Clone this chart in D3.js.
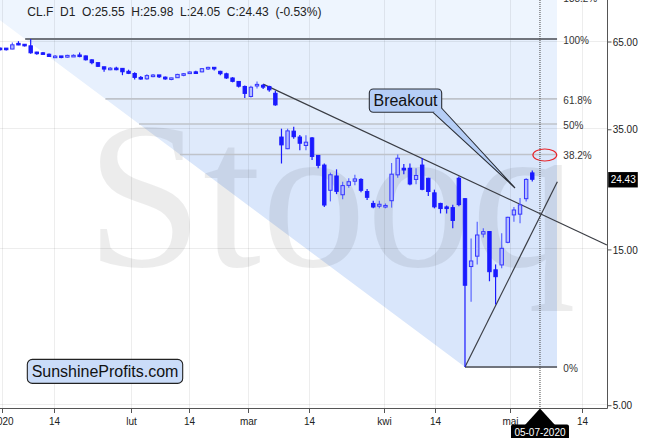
<!DOCTYPE html>
<html><head><meta charset="utf-8">
<script src="https://cdn.jsdelivr.net/npm/d3@7"></script>
<style>
html,body{margin:0;padding:0;background:#fff;}
svg{display:block;font-family:"Liberation Sans",Arial,Helvetica,sans-serif;}
</style></head><body>
<svg id="chart" width="667" height="438"></svg>
<script>
// ---- data (one slot per trading session) ----
const dates = ["2019-12-31","2020-01-02","2020-01-03","2020-01-06","2020-01-07","2020-01-08","2020-01-09","2020-01-10","2020-01-13","2020-01-14","2020-01-15","2020-01-16","2020-01-17","2020-01-21","2020-01-22","2020-01-23","2020-01-24","2020-01-27","2020-01-28","2020-01-29","2020-01-30","2020-01-31","2020-02-03","2020-02-04","2020-02-05","2020-02-06","2020-02-07","2020-02-10","2020-02-11","2020-02-12","2020-02-13","2020-02-14","2020-02-18","2020-02-19","2020-02-20","2020-02-21","2020-02-24","2020-02-25","2020-02-26","2020-02-27","2020-02-28","2020-03-02","2020-03-03","2020-03-04","2020-03-05","2020-03-06","2020-03-09","2020-03-10","2020-03-11","2020-03-12","2020-03-13","2020-03-16","2020-03-17","2020-03-18","2020-03-19","2020-03-20","2020-03-23","2020-03-24","2020-03-25","2020-03-26","2020-03-27","2020-03-30","2020-03-31","2020-04-01","2020-04-02","2020-04-03","2020-04-06","2020-04-07","2020-04-08","2020-04-09","2020-04-13","2020-04-14","2020-04-15","2020-04-16","2020-04-17","2020-04-20","2020-04-21","2020-04-22","2020-04-23","2020-04-24","2020-04-27","2020-04-28","2020-04-29","2020-04-30","2020-05-01","2020-05-04","2020-05-05","2020-05-06"];
const openV = [61.6,61.6,61.2,63.7,63.3,62.6,59.9,59.6,59.0,58.1,58.3,57.8,58.4,58.7,58.3,56.7,55.6,54.0,53.1,53.5,53.4,52.3,51.5,50.1,49.6,50.8,51.0,50.2,49.6,50.0,51.2,51.5,52.1,52.1,53.3,53.8,52.3,51.4,49.9,48.7,47.0,43.8,47.2,47.4,47.0,44.8,32.9,30.3,34.3,32.9,31.0,32.7,28.9,27.0,22.6,25.0,21.9,23.4,24.1,24.4,22.4,20.6,20.2,20.1,21.0,25.2,26.4,26.4,24.4,27.0,24.6,22.2,20.6,20.1,20.0,24.6,21.3,13.2,14.2,16.6,16.9,12.9,13.35,15.66,19.0,19.1,21.3,25.55];
const highV = [61.9,61.6,64.1,64.7,63.4,65.65,60.0,59.9,59.3,58.7,58.3,58.8,59.0,59.7,58.5,56.9,55.7,54.0,53.9,54.0,53.5,52.9,52.0,50.6,51.2,51.3,51.0,50.4,50.0,51.4,51.7,52.3,52.5,53.5,54.0,53.9,52.5,51.8,50.2,48.8,47.3,47.2,48.7,47.8,47.2,45.6,34.9,34.9,35.4,33.4,33.3,32.9,29.0,27.3,25.6,26.2,24.0,24.6,25.2,24.6,22.8,21.0,21.0,20.6,27.4,29.1,27.2,27.3,26.4,28.4,24.7,22.7,20.7,20.3,20.4,24.9,21.4,16.1,18.1,17.3,16.9,13.4,16.7,18.75,20.1,21.4,24.6,25.98];
const lowV = [60.6,60.6,61.1,62.9,62.3,59.15,58.8,58.8,58.0,57.7,57.4,57.6,58.2,57.8,56.4,55.0,53.9,52.1,52.7,52.7,50.9,51.3,49.4,49.3,49.3,50.2,49.9,49.3,49.1,49.9,50.5,51.3,51.3,52.0,52.8,52.6,50.9,49.6,48.4,46.7,43.3,43.5,46.3,46.2,45.3,41.0,27.3,30.2,32.5,30.0,30.0,28.0,26.4,20.1,20.9,22.0,21.2,23.0,23.4,22.3,21.1,19.9,19.9,19.9,20.0,24.7,25.3,23.4,23.6,22.6,21.7,19.9,19.2,19.2,17.3,20.2,6.5,10.3,13.4,16.2,11.9,10.1,13.05,15.55,18.1,17.9,20.9,24.05];
const closeV = [61.06,61.18,63.05,63.27,62.70,59.61,59.56,59.04,58.08,58.23,57.81,58.52,58.54,58.38,56.74,55.59,54.19,53.14,53.48,53.33,52.14,51.56,50.11,49.61,50.75,50.95,50.32,49.57,49.94,51.17,51.42,52.05,52.05,53.29,53.78,53.38,51.43,49.90,48.73,47.09,44.76,46.75,47.7,46.78,45.90,41.28,31.13,34.36,32.98,31.50,31.73,28.70,26.95,20.37,25.22,22.43,23.36,24.01,24.49,22.60,21.51,20.09,20.48,20.31,25.32,28.34,26.08,23.63,25.09,22.76,22.41,20.11,19.87,19.87,18.27,20.43,11.57,13.73,16.49,16.88,12.73,12.29,15.01,18.68,19.67,20.4,24.4,24.43];

const xTickSlots  = [0.33, 8.81, 21.4, 30.93, 40.58, 50.52, 62.68, 71.1, 83.39, 95.2];
const xTickLabels = ["2020","14","lut","14","mar","14","kwi","14","maj","14"];
const yTickValues = [5, 15, 35, 65];

const fibLevels = [0, 0.382, 0.5, 0.618, 1, 1.382];
const fibLabels = ["0%","38.2%","50%","61.8%","100%","138.2%"];
const fibHigh = {slot: 4.1, price: 65.65};
const fibLow  = {slot: 76,  price: 6.5};
const fibEndSlot = 91.05;

const resistanceLine = [{slot: 43, price: 47.8}, {slot: 99.2, price: 15.37}];
const supportLine    = [{slot: 76, price: 6.5},  {slot: 91.1, price: 24.0}];

const headerText = "CL.F  D1  O:25.55  H:25.98  L:24.05  C:24.43  (-0.53%)";
const lastPrice = 24.43;
const cursorSlot = 88.26, cursorLabel = "05-07-2020";

const breakoutBox  = {s0: 60.36, s1: 72.19, p0: 46.17, p1: 39.18, text: "Breakout"};
const breakoutWedge = [{slot: 70.77, price: 39.18}, {slot: 84.18, price: 22.97}, {slot: 72.16, price: 40.38}];
const brandBox = {s0: 4.45, s1: 29.85, p0: 6.86, p1: 5.79, text: "SunshineProfits.com"};
const circleMark = {s0: 87.1, s1: 91.0, p0: 30.24, p1: 27.79};

// ---- layout ----
const W = 667, H = 438;
const plotRight = 607.5, plotBottom = 408.5;
const svg = d3.select("#chart");

const x = d3.scaleLinear().domain([0, 99.2]).range([0.1, 606.9]);
const y = d3.scaleLog().domain([5, 65]).range([404.2, 40.5]);

svg.append("rect").attr("width", W).attr("height", H).attr("fill", "#fff");

// ---- fibonacci shaded region ----
const xh = x(fibHigh.slot), yh = y(fibHigh.price);
const xl = x(fibLow.slot),  yl = y(fibLow.price);
const m = (yl - yh) / (xl - xh);
const y0 = yh - m * xh;
const xr = x(fibEndSlot);
const diagX = yy => xh + (yy - yh) / m;

svg.append("clipPath").attr("id", "fibclip")
  .append("path")
  .attr("d", d3.line()([[0, -5], [xr, -5], [xr, yl], [xl, yl], [0, y0]]) + "Z");

const levelPrices = fibLevels.map(f => fibLow.price + f * (fibHigh.price - fibLow.price));
const levelY = levelPrices.map(p => y(p));
const bandEdges = [-5, levelY[4], levelY[3], levelY[2], levelY[1], levelY[0]];
const bandColors = ["#eef5fe", "#e7f0fd", "#e3edfc", "#dfeafb", "#d9e6fb"];
const bandG = svg.append("g").attr("clip-path", "url(#fibclip)");
bandColors.forEach((c, i) => {
  bandG.append("rect").attr("x", 0).attr("width", xr)
    .attr("y", bandEdges[i]).attr("height", bandEdges[i + 1] - bandEdges[i])
    .attr("fill", c);
});

// ---- grid ----
const grid = svg.append("g").attr("stroke", "rgba(0,0,0,0.07)").attr("stroke-width", 1);
xTickSlots.forEach(s => {
  const xx = Math.round(x(s)) + 0.5;
  grid.append("line").attr("x1", xx).attr("x2", xx).attr("y1", 0).attr("y2", plotBottom);
});
yTickValues.forEach(v => {
  const yy = Math.round(y(v)) + 0.5;
  grid.append("line").attr("x1", 0).attr("x2", plotRight).attr("y1", yy).attr("y2", yy);
});

// ---- watermark ----
svg.append("text").attr("x", 86).attr("y", 266)
  .attr("font-family", "'Liberation Serif','DejaVu Serif',serif")
  .attr("font-size", 210).attr("fill", "rgba(0,0,0,0.075)")
  .text("Stooq");

// ---- fib lines + labels ----
const fibG = svg.append("g");
levelY.forEach((yy, i) => {
  const strong = (fibLevels[i] === 0 || fibLevels[i] === 1);
  const xs = Math.max(0, diagX(yy));
  fibG.append("line").attr("x1", xs).attr("x2", xr).attr("y1", yy).attr("y2", yy)
    .attr("stroke", strong ? "#70747c" : "#bfc3ca")
    .attr("stroke-width", strong ? 2 : 1.6);
  fibG.append("text").attr("x", xr + 6.3).attr("y", yy + 4.6)
    .attr("font-size", 10).attr("fill", "#333").text(fibLabels[i]);
});

// ---- trend lines ----
const tl = d3.line().x(d => x(d.slot)).y(d => y(d.price));
[resistanceLine, supportLine].forEach(pts => {
  svg.append("path").attr("d", tl(pts)).attr("fill", "none")
    .attr("stroke", "#3a3d44").attr("stroke-width", 1.2);
});

// ---- candles ----
const candles = dates.map((d, i) => ({i, d, o: openV[i], h: highV[i], l: lowV[i], c: closeV[i]}));
const cg = svg.append("g");
const bw = 3.4;
candles.forEach(k => {
  const up = k.c >= k.o;
  const cx = x(k.i);
  cg.append("line").attr("x1", cx).attr("x2", cx).attr("y1", y(k.h)).attr("y2", y(k.l))
    .attr("stroke", up ? "#5a66ff" : "#1a1aff").attr("stroke-width", 1.2);
  const top = y(Math.max(k.o, k.c)), bot = y(Math.min(k.o, k.c));
  const hgt = Math.max(1.6, bot - top);
  cg.append("rect").attr("x", cx - bw / 2).attr("y", top).attr("width", bw).attr("height", hgt)
    .attr("fill", up ? "#b3bdff" : "#1a1aff")
    .attr("stroke", up ? "#3535ff" : "#1a1aff").attr("stroke-width", 1);
});

// ---- annotations ----
// Breakout callout
const bx0 = x(breakoutBox.s0), bx1 = x(breakoutBox.s1), by0 = y(breakoutBox.p0), by1 = y(breakoutBox.p1);
svg.append("rect").attr("x", bx0).attr("y", by0).attr("width", bx1 - bx0).attr("height", by1 - by0)
  .attr("rx", 4).attr("fill", "#b6cef6").attr("stroke", "#2b2f36").attr("stroke-width", 1.1);
const wedgePts = breakoutWedge.map(d => [x(d.slot), y(d.price)]);
svg.append("path").attr("d", d3.line()(wedgePts))
  .attr("fill", "#b6cef6").attr("stroke", "#2b2f36").attr("stroke-width", 1.1);
svg.append("text").attr("x", (bx0 + bx1) / 2).attr("y", (by0 + by1) / 2 + 5.6)
  .attr("text-anchor", "middle").attr("font-size", 16).attr("fill", "#111").text(breakoutBox.text);

// Brand label
const sx0 = x(brandBox.s0), sx1 = x(brandBox.s1), sy0 = y(brandBox.p0), sy1 = y(brandBox.p1);
svg.append("rect").attr("x", sx0).attr("y", sy0).attr("width", sx1 - sx0).attr("height", sy1 - sy0)
  .attr("rx", 5).attr("fill", "#cadcf9").attr("stroke", "#222").attr("stroke-width", 1.1);
svg.append("text").attr("x", (sx0 + sx1) / 2).attr("y", (sy0 + sy1) / 2 + 5.7)
  .attr("text-anchor", "middle").attr("font-size", 16).attr("fill", "#111").text(brandBox.text);

// red ellipse
const ex0 = x(circleMark.s0), ex1 = x(circleMark.s1), ey0 = y(circleMark.p0), ey1 = y(circleMark.p1);
svg.append("ellipse").attr("cx", (ex0 + ex1) / 2).attr("cy", (ey0 + ey1) / 2)
  .attr("rx", (ex1 - ex0) / 2).attr("ry", (ey1 - ey0) / 2)
  .attr("fill", "none").attr("stroke", "#e8262b").attr("stroke-width", 1.2);

// ---- crosshair ----
const xc = x(cursorSlot);
svg.append("line").attr("x1", xc).attr("x2", xc).attr("y1", 0).attr("y2", plotBottom)
  .attr("stroke", "#444").attr("stroke-width", 1).attr("stroke-dasharray", "1,1");

// ---- axes ----
const axG = svg.append("g");
axG.append("line").attr("x1", plotRight).attr("x2", plotRight).attr("y1", 0).attr("y2", plotBottom)
  .attr("stroke", "#555").attr("stroke-width", 1);
axG.append("line").attr("x1", 0).attr("x2", plotRight).attr("y1", plotBottom).attr("y2", plotBottom)
  .attr("stroke", "#555").attr("stroke-width", 1);
yTickValues.forEach(v => {
  const yy = y(v);
  axG.append("line").attr("x1", plotRight).attr("x2", plotRight + 4).attr("y1", yy + 1.5).attr("y2", yy + 1.5)
    .attr("stroke", "#555");
  axG.append("text").attr("x", 612.7).attr("y", yy + 5.2).attr("font-size", 10).attr("fill", "#222")
    .text(d3.format(".2f")(v));
});
xTickSlots.forEach((s, i) => {
  const xx = Math.round(x(s)) + 0.5;
  axG.append("line").attr("x1", xx).attr("x2", xx).attr("y1", plotBottom).attr("y2", plotBottom + 4.5)
    .attr("stroke", "#555");
  axG.append("text").attr("x", xx).attr("y", 425.3).attr("text-anchor", "middle")
    .attr("font-size", 10).attr("fill", "#222").text(xTickLabels[i]);
});

// last price tag
const yp = y(lastPrice);
svg.append("rect").attr("x", 608.2).attr("y", yp - 7.2).attr("width", 29.6).attr("height", 15.4).attr("fill", "#000");
svg.append("text").attr("x", 610.7).attr("y", yp + 4).attr("font-size", 10).attr("fill", "#fff").text(d3.format(".2f")(lastPrice));

// cursor date tag
svg.append("path").attr("d", d3.line()([[xc, plotBottom], [xc - 15, 425], [xc + 15, 425]]) + "Z").attr("fill", "#000");
svg.append("rect").attr("x", xc - 29).attr("y", 424.5).attr("width", 58).attr("height", 16).attr("rx", 2).attr("fill", "#000");
svg.append("text").attr("x", xc).attr("y", 435.5).attr("text-anchor", "middle")
  .attr("font-size", 10).attr("fill", "#fff").text(cursorLabel);

// header
svg.append("text").attr("x", 27.3).attr("y", 16).attr("font-size", 12).attr("fill", "#222")
  .style("white-space", "pre").text(headerText);
</script>
</body></html>
